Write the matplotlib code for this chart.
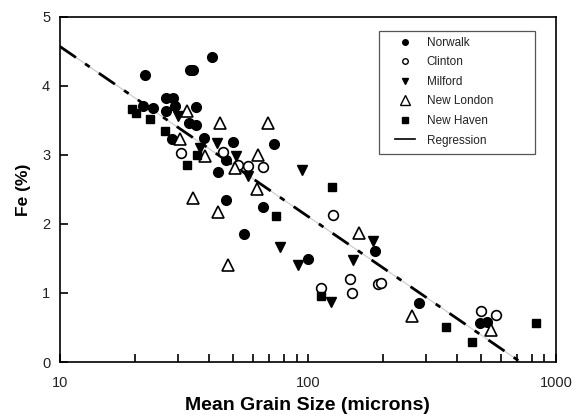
import numpy as np
import matplotlib
matplotlib.use('Agg')
import matplotlib.pyplot as plt
from matplotlib.lines import Line2D
from matplotlib.patches import Rectangle
from matplotlib.ticker import LogLocator, NullFormatter, FixedLocator

plt.rcParams['font.family'] = ['Liberation Sans', 'DejaVu Sans']

# Mean grain size (microns) and Fe (%) per site
norwalk_x = [41.0, 22.1, 33.4, 34.3, 26.8, 28.5, 21.7, 23.8, 26.9, 29.2, 35.3, 33.2, 35.3,
             28.2, 38.1, 50.0, 73.1, 46.8, 43.3, 46.7, 66.0, 55.2, 100.3, 186, 281, 494, 528]
norwalk_y = [4.42, 4.16, 4.23, 4.23, 3.83, 3.83, 3.71, 3.68, 3.64, 3.71, 3.70, 3.46, 3.43,
             3.23, 3.25, 3.19, 3.16, 2.92, 2.75, 2.35, 2.24, 1.85, 1.49, 1.61, 0.86, 0.56, 0.58]

clinton_x = [30.9, 45.6, 52.4, 57.4, 66.0, 125.8, 112.5, 147.6, 150.1, 192, 198, 498, 576]
clinton_y = [3.03, 3.04, 2.86, 2.84, 2.83, 2.13, 1.07, 1.20, 1.00, 1.13, 1.15, 0.74, 0.68]

milford_x = [30.0, 36.7, 43.1, 51.3, 57.4, 95.1, 77.1, 91.4, 124.5, 152.4, 182.4]
milford_y = [3.56, 3.10, 3.17, 2.99, 2.70, 2.78, 1.66, 1.41, 0.87, 1.48, 1.75]

newlondon_x = [32.6, 30.5, 38.4, 44.2, 69.2, 63.1, 50.8, 62.1, 34.3, 43.3, 47.7, 161, 264, 547]
newlondon_y = [3.63, 3.23, 2.99, 3.46, 3.46, 3.00, 2.81, 2.50, 2.37, 2.18, 1.41, 1.87, 0.67, 0.46]

newhaven_x = [19.5, 20.3, 23.1, 26.5, 32.6, 35.6, 74.3, 124.6, 112.5, 359, 457, 835]
newhaven_y = [3.67, 3.60, 3.52, 3.34, 2.86, 3.00, 2.12, 2.54, 0.96, 0.51, 0.29, 0.57]

# Regression: Fe = a - b * log10(size)
reg_a = 7.03
reg_b = 2.46

fig = plt.figure(figsize=(5.76, 4.2), dpi=100)
ax = fig.add_axes([0.104, 0.138, 0.861, 0.822])

# regression line (thin grey under a black dash-dot)
xr = np.logspace(1, 3, 200)
yr = reg_a - reg_b * np.log10(xr)
ax.plot(xr, yr, color='#c8c8c8', lw=0.8, zorder=1)
ax.plot(xr, yr, color='black', lw=2.0, dashes=(7, 4, 2, 4), zorder=2)

ms = 7
ax.plot(norwalk_x, norwalk_y, 'o', color='black', ms=ms, ls='none', zorder=3)
ax.plot(clinton_x, clinton_y, 'o', mfc='white', mec='black', mew=1.2, ms=ms, ls='none', zorder=3)
ax.plot(milford_x, milford_y, 'v', color='black', ms=7.5, ls='none', zorder=3)
ax.plot(newlondon_x, newlondon_y, '^', mfc='white', mec='black', mew=1.2, ms=8, ls='none', zorder=3)
ax.plot(newhaven_x, newhaven_y, 's', color='black', ms=6, ls='none', zorder=3)

ax.set_xscale('log')
ax.set_xlim(10, 1000)
ax.set_ylim(0, 5)
ax.set_yticks([0, 1, 2, 3, 4, 5])
ax.xaxis.set_major_locator(FixedLocator([10, 100, 1000]))
ax.set_xticklabels(['10', '100', '1000'])
ax.xaxis.set_minor_locator(LogLocator(base=10, subs=np.arange(2, 10)))
ax.xaxis.set_minor_formatter(NullFormatter())
ax.tick_params(which='both', direction='in', top=False, right=False,
               length=6, width=1.2, labelsize=10.5, colors='black', labelcolor='#222222', pad=7)
ax.tick_params(axis='x', pad=10)
for s in ax.spines.values():
    s.set_linewidth(1.2)

ax.set_xlabel('Mean Grain Size (microns)', fontsize=14, fontweight='bold', labelpad=5)
ax.set_ylabel('Fe (%)', fontsize=12.5, fontweight='bold', labelpad=8)

handles = [
    Line2D([], [], marker='o', color='black', ls='none', ms=4),
    Line2D([], [], marker='o', mfc='white', mec='black', ls='none', ms=4),
    Line2D([], [], marker='v', color='black', ls='none', ms=5),
    Line2D([], [], marker='^', mfc='white', mec='black', ls='none', ms=6.5),
    Line2D([], [], marker='s', color='black', ls='none', ms=4),
    Line2D([], [], color='black', lw=1.2),
]
labels = ['Norwalk', 'Clinton', 'Milford', 'New London', 'New Haven', 'Regression']
leg = ax.legend(handles, labels, loc='upper left', bbox_to_anchor=(0.675, 0.942),
                fontsize=8.5, frameon=False, handlelength=1.7,
                borderpad=0, labelspacing=0.64, handletextpad=1.0, borderaxespad=0)
for t in leg.get_texts():
    t.set_color('#222222')

# legend box, wider than the entries
ax.add_patch(Rectangle((0.643, 0.603), 0.315, 0.356, transform=ax.transAxes,
                       fill=False, edgecolor='#555555', lw=0.9, zorder=5))

fig.savefig('out.png', dpi=100)
